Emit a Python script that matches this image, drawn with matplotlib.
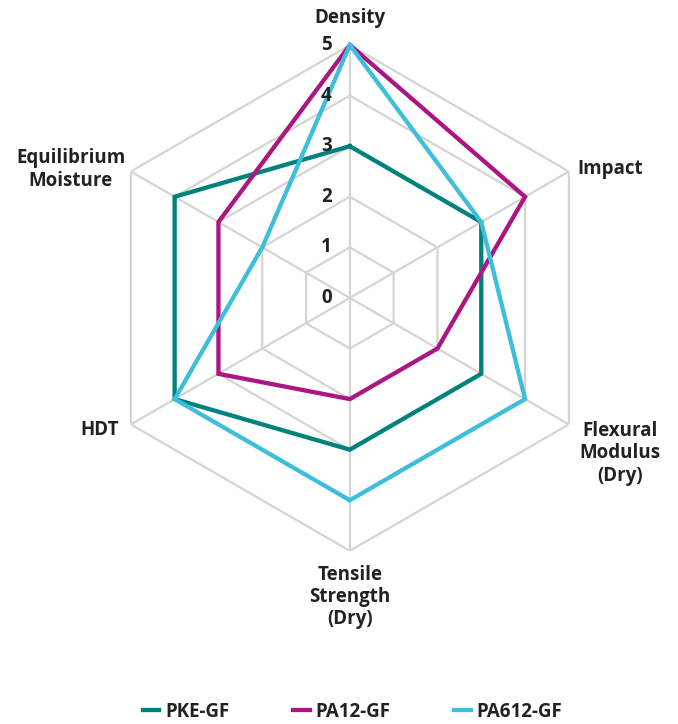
import matplotlib
matplotlib.use("Agg")
import matplotlib.pyplot as plt
import numpy as np

plt.rcParams['font.family'] = ['Open Sans', 'DejaVu Sans']

categories = ['Density', 'Impact', 'Flexural\nModulus\n(Dry)', 'Tensile\nStrength\n(Dry)',
              'HDT', 'Equilibrium\nMoisture']
pke_gf = [3, 3, 3, 3, 4, 4]
pa12_gf = [5, 4, 2, 2, 3, 3]
pa612_gf = [5, 3, 4, 4, 4, 2]
ticks = [0, 1, 2, 3, 4, 5]

series = [('PKE-GF', pke_gf, '#00827c'),
          ('PA12-GF', pa12_gf, '#ac1683'),
          ('PA612-GF', pa612_gf, '#3dbfdb')]

n = len(categories)
theta = np.arange(n) * 2 * np.pi / n
theta_closed = np.append(theta, theta[0])

fig = plt.figure(figsize=(6.78, 7.24), dpi=100)
ax = fig.add_axes([0.143, 0.239, 0.746, 0.699], projection='polar')
ax.set_theta_offset(np.pi / 2)
ax.set_theta_direction(-1)
ax.set_ylim(0, 5)
ax.grid(False)
ax.spines['polar'].set_visible(False)
ax.set_xticks([])
ax.set_yticks([])

grid_col = '#d4d4d4'
for r in ticks[1:]:
    ax.plot(theta_closed, [r] * (n + 1), color=grid_col, lw=1.6, zorder=1)
for t in theta:
    ax.plot([t, t], [0, 5], color=grid_col, lw=1.6, zorder=1)

for name, vals, col in series:
    ax.plot(theta_closed, vals + vals[:1], color=col, lw=3.1, label=name,
            zorder=3, solid_joinstyle='miter', clip_on=False)

for r in ticks:
    ax.annotate(str(r), xy=(0, r), xytext=(-18, 0), textcoords='offset pixels',
                ha='right', va='center', fontsize=13.5, fontweight='bold', color='#222222')

offsets = [((0, 27), 'center'), ((9, 2), 'left'), ((51, -29), 'center'),
           ((0, -46), 'center'), ((-12, -6), 'right'), ((-60, 2), 'center')]
for t, lab, (off, ha) in zip(theta, categories, offsets):
    ax.annotate(lab, xy=(t, 5), xytext=off, textcoords='offset pixels',
                ha=ha, va='center', multialignment='center', fontsize=13.5,
                fontweight='bold', color='#222222', linespacing=1.15,
                annotation_clip=False)

leg = fig.legend(loc='center', bbox_to_anchor=(0.52, 0.017), ncol=3, frameon=False,
                 handlelength=0.9, handletextpad=0.3, columnspacing=3.4,
                 prop={'size': 13.5, 'weight': 'bold'})
for txt in leg.get_texts():
    txt.set_color('#222222')

fig.savefig('out.png', dpi=100)
